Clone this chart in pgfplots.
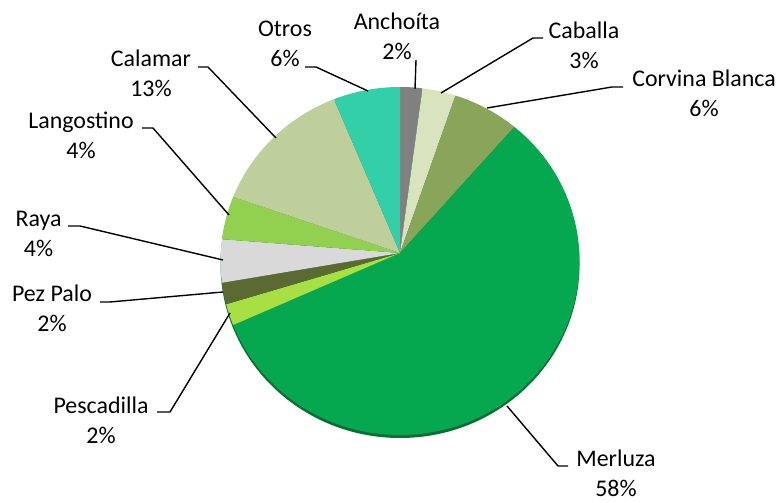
\documentclass[border=0pt]{standalone}
\usepackage{pgfplots}
\pgfplotsset{compat=1.18}
\usepackage{fontspec}
\setmainfont{Carlito}

\definecolor{cAnch}{HTML}{808080}
\definecolor{cCab}{HTML}{D7E4BD}
\definecolor{cCorv}{HTML}{88A55A}
\definecolor{cMerl}{HTML}{06A84F}
\definecolor{cPesc}{HTML}{A8E043}
\definecolor{cPez}{HTML}{5A6A32}
\definecolor{cRaya}{HTML}{D9D9D9}
\definecolor{cLang}{HTML}{92D050}
\definecolor{cCal}{HTML}{BFCF9B}
\definecolor{cOtros}{HTML}{33CFA8}
\definecolor{cRim}{HTML}{0A6E35}

% value / colour, clockwise from 12 o'clock
\def\piedata{2/cAnch, 3/cCab, 6/cCorv, 58/cMerl, 2/cPesc, 2/cPez, 4/cRaya, 4/cLang, 13/cCal, 6/cOtros}

% label: x, baseline of first line (from top, px), name, percent
\newcommand{\lbl}[4]{%
  \node[anchor=base, inner sep=0pt] at (axis cs:#1,{503-#2}) {#3};
  \node[anchor=base, inner sep=0pt] at (axis cs:#1,{503-#2-30}) {#4};
}

\begin{document}
\begin{tikzpicture}
\begin{axis}[
    x=1bp, y=1bp,
    xmin=0, xmax=780, ymin=0, ymax=503,
    hide axis, clip=false,
    font=\fontsize{24}{30}\selectfont,
    leader/.style={black, line width=1.4pt, mark=none},
]
\path (axis cs:0,0) rectangle (axis cs:780,503);

\pgfplotsextra{
  % dark rim under the pie
  \fill[cRim] (axis cs:400,239) ellipse[x radius=179.5bp, y radius=174bp];
  \xdef\cum{0}
  \foreach \v/\c in \piedata {
    \pgfmathsetmacro\ta{90-3.6*\cum}
    \pgfmathsetmacro\tb{90-3.6*(\cum+\v)}
    \fill[\c] (axis cs:400,250) -- (axis cs:{400+179.5*cos(\ta)},{242+174*sin(\ta)})
      arc[start angle=\ta, end angle=\tb, x radius=179.5bp, y radius=174bp] -- cycle;
    \pgfmathsetmacro\newcum{\cum+\v}
    \global\let\cum\newcum
  }
}

% leader lines
\addplot[leader] coordinates {(305,436) (316,436) (368,412)};
\addplot[leader] coordinates {(416,443) (415,414)};
\addplot[leader] coordinates {(543,465) (533,465) (441,410)};
\addplot[leader] coordinates {(623,416) (612,416) (487,395)};
\addplot[leader] coordinates {(568,37) (558,37) (507,97)};
\addplot[leader] coordinates {(157,91) (170,91) (230,190)};
\addplot[leader] coordinates {(100,201) (110,201) (223,211)};
\addplot[leader] coordinates {(68,277) (80,277) (223,243)};
\addplot[leader] coordinates {(142,375) (153,375) (229,288)};
\addplot[leader] coordinates {(198,436) (208,436) (276,365)};

\lbl{285}{36.7}{Otros}{6\%}
\lbl{397}{29.5}{Anchoíta}{2\%}
\lbl{584}{39}{Caballa}{3\%}
\lbl{704}{87}{Corvina Blanca}{6\%}
\lbl{616}{467}{Merluza}{58\%}
\lbl{101}{414}{Pescadilla}{2\%}
\lbl{52}{302}{Pez Palo}{2\%}
\lbl{38.5}{226.7}{Raya}{4\%}
\lbl{81}{128.3}{Langostino}{4\%}
\lbl{151}{66.7}{Calamar}{13\%}
\end{axis}
\end{tikzpicture}
\end{document}
